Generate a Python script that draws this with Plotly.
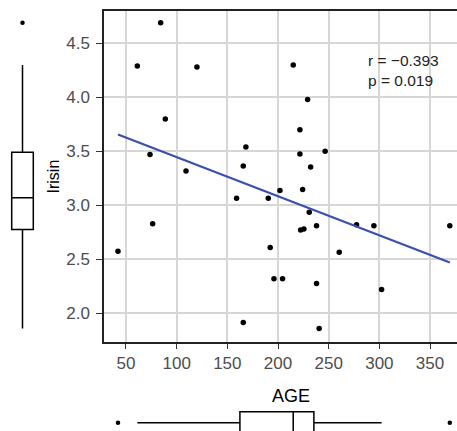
import numpy as np
import plotly.graph_objects as go

# ---- data ----
age = [84.2, 61.2, 120.0, 215.0, 229.2, 88.8, 221.6, 168.3, 73.7, 221.6, 246.5,
       109.2, 165.7, 232.2, 201.9, 224.3, 159.1, 190.4, 230.8, 76.3, 222.3, 225.5,
       238.0, 277.5, 294.6, 369.5, 42.1, 192.3, 260.4, 196.0, 204.5, 238.0, 302.2,
       165.7, 240.6]
irisin = [4.69, 4.29, 4.28, 4.30, 3.98, 3.80, 3.70, 3.54, 3.47, 3.475, 3.50,
          3.318, 3.364, 3.355, 3.136, 3.145, 3.065, 3.065, 2.935, 2.83, 2.77, 2.78,
          2.81, 2.82, 2.81, 2.81, 2.574, 2.61, 2.565, 2.32, 2.32, 2.275, 2.22,
          1.914, 1.86]

# marginal box statistics
irisin_box = dict(q1=2.775, median=3.07, q3=3.49, lower=1.86, upper=4.30)
age_box = dict(q1=162.4, median=215.0, q3=235.4, lower=61.2, upper=302.2)

x_ticks = [50, 100, 150, 200, 250, 300, 350]
y_ticks = [2.0, 2.5, 3.0, 3.5, 4.0, 4.5]
stat_text = "r = −0.393<br>p = 0.019"

# ---- layout geometry ----
W, H = 457, 431
xr = [28.3, 376.6]
yr = [1.734, 4.799]
main_xdom = [104 / W, 1.0]
main_ydom = [(H - 342) / H, (H - 11) / H]

age_a = np.array(age)
iri_a = np.array(irisin)
slope, intercept = np.polyfit(age_a, iri_a, 1)
lx = np.array([age_a.min(), age_a.max()])
ly = intercept + slope * lx

fig = go.Figure()

fig.add_trace(go.Scatter(x=age, y=irisin, mode="markers",
                         marker=dict(color="black", size=5.5),
                         xaxis="x", yaxis="y", showlegend=False, hoverinfo="skip"))
fig.add_trace(go.Scatter(x=lx, y=ly, mode="lines",
                         line=dict(color="#3a4fae", width=2.2),
                         xaxis="x", yaxis="y", showlegend=False))

# left marginal box (Irisin)
fig.add_trace(go.Box(x=[0], q1=[irisin_box["q1"]], median=[irisin_box["median"]],
                     q3=[irisin_box["q3"]], lowerfence=[irisin_box["lower"]],
                     upperfence=[irisin_box["upper"]], width=0.48, whiskerwidth=0,
                     fillcolor="white", line=dict(color="black", width=1.5),
                     boxpoints=False, xaxis="x2", yaxis="y2", showlegend=False))
iri_out = [v for v in irisin if v > irisin_box["upper"] or v < irisin_box["lower"]]
fig.add_trace(go.Scatter(x=[0] * len(iri_out), y=iri_out, mode="markers",
                         marker=dict(color="black", size=4.5),
                         xaxis="x2", yaxis="y2", showlegend=False))

# bottom marginal box (AGE)
fig.add_trace(go.Box(y=[0], orientation="h", q1=[age_box["q1"]], median=[age_box["median"]],
                     q3=[age_box["q3"]], lowerfence=[age_box["lower"]],
                     upperfence=[age_box["upper"]], width=0.733, whiskerwidth=0,
                     fillcolor="white", line=dict(color="black", width=1.5),
                     boxpoints=False, xaxis="x3", yaxis="y3", showlegend=False))
age_out = [v for v in age if v > age_box["upper"] or v < age_box["lower"]]
fig.add_trace(go.Scatter(x=age_out, y=[0] * len(age_out), mode="markers",
                         marker=dict(color="black", size=4.5),
                         xaxis="x3", yaxis="y3", showlegend=False))

font_family = "Liberation Sans, Arial, sans-serif"
tickfont = dict(family=font_family, size=17, color="#4d4d4d")

fig.update_layout(
    width=W, height=H,
    margin=dict(l=0, r=0, t=0, b=0),
    paper_bgcolor="white", plot_bgcolor="white",
    font=dict(family=font_family),
    xaxis=dict(domain=main_xdom, range=xr, anchor="y",
               tickvals=x_ticks, ticktext=[str(v) for v in x_ticks],
               showgrid=True, gridcolor="#d6d6d6", gridwidth=1.5,
               showline=True, linecolor="#222222", linewidth=1.5, mirror=True,
               ticks="outside", ticklen=5, tickcolor="#333333", tickwidth=1.2,
               tickfont=tickfont, zeroline=False, ticklabelstandoff=0),
    yaxis=dict(domain=main_ydom, range=yr, anchor="x",
               tickvals=y_ticks, ticktext=[f"{v:.1f}" for v in y_ticks],
               showgrid=True, gridcolor="#d6d6d6", gridwidth=1.5,
               showline=True, linecolor="#222222", linewidth=1.5, mirror=False,
               ticks="outside", ticklen=6, tickcolor="#333333", tickwidth=1.2,
               tickfont=tickfont, zeroline=False, ticklabelstandoff=3),
    xaxis2=dict(domain=[0, 45 / W], range=[-0.5, 0.5], anchor="y2", visible=False),
    yaxis2=dict(domain=main_ydom, range=yr, anchor="x2", visible=False),
    xaxis3=dict(domain=main_xdom, range=xr, anchor="y3", visible=False),
    yaxis3=dict(domain=[0, 30 / H], range=[-8.3 / 30, 21.7 / 30], anchor="x3", visible=False),
    annotations=[
        dict(text="Irisin", xref="paper", yref="paper", x=53 / W, y=(H - 176.5) / H,
             textangle=-90, showarrow=False, xanchor="center", yanchor="middle",
             font=dict(family=font_family, size=16, color="black")),
        dict(text="AGE", xref="paper", yref="paper", x=291 / W, y=(H - 396) / H,
             showarrow=False, xanchor="center", yanchor="middle",
             font=dict(family=font_family, size=18, color="black")),
        dict(text=stat_text, xref="paper", yref="paper", x=366 / W, y=(H - 50) / H,
             showarrow=False, xanchor="left", yanchor="top", align="left",
             font=dict(family=font_family, size=15.5, color="#222222")),
    ],
)

fig.write_html("out.html", config={"displayModeBar": False},
               post_script="document.body.style.margin='0px';")
